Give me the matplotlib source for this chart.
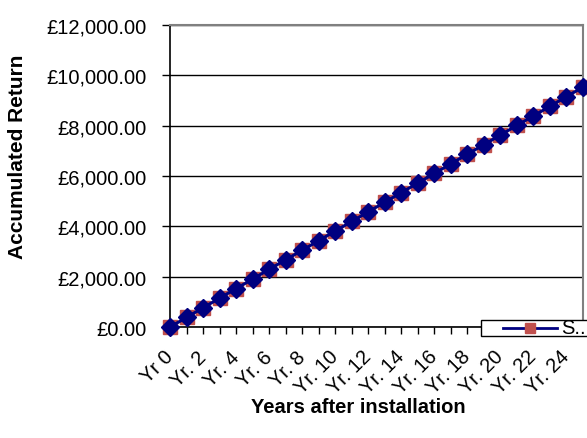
import matplotlib
matplotlib.use("Agg")
import matplotlib.pyplot as plt
from matplotlib.lines import Line2D
from matplotlib.patches import Rectangle

plt.rcParams['font.family'] = ['Liberation Sans', 'DejaVu Sans']

years = ["Yr 0"] + [f"Yr. {i}" for i in range(1, 26)]
returns_a = [0, 380, 765, 1145, 1525, 1905, 2290, 2670, 3050, 3430, 3815, 4195, 4575,
             4960, 5340, 5720, 6100, 6485, 6865, 7245, 7630, 8010, 8390, 8770, 9155, 9535]
returns_b = [0, 380, 765, 1145, 1525, 1905, 2290, 2670, 3050, 3430, 3815, 4195, 4575,
             4960, 5340, 5720, 6100, 6485, 6865, 7245, 7630, 8010, 8390, 8770, 9155, 9535]
yticks = [0, 2000, 4000, 6000, 8000, 10000, 12000]
ytick_labels = ["£0.00", "£2,000.00", "£4,000.00", "£6,000.00", "£8,000.00", "£10,000.00", "£12,000.00"]
legend_label = "S.."

W, H = 587, 439
FS = 14.5
fig = plt.figure(figsize=(W/100, H/100), dpi=100)
ax = fig.add_axes([170/W, 1-328/H, 413/W, 302/H])

x = list(range(len(years)))
ax.plot(x, returns_a, linestyle='none', marker='s', markersize=10.5, color='#C0504D',
        clip_on=False, zorder=3)
ax.plot(x, returns_b, linestyle='-', linewidth=2.2, marker='D', markersize=9.5,
        color='#000080', clip_on=False, zorder=4)

ax.set_xlim(0, 25)
ax.set_ylim(0, 12000)
ax.set_yticks(yticks)
ax.set_yticklabels(ytick_labels, fontsize=FS)
ax.set_xticks(x)
ax.set_xticklabels([lbl if i % 2 == 0 else "" for i, lbl in enumerate(years)],
                   rotation=45, ha='right', va='center', rotation_mode='anchor', fontsize=FS)
ax.tick_params(axis='x', direction='out', length=5, width=1, pad=14)
ax.tick_params(axis='y', direction='out', length=6, width=1, pad=11)

ax.grid(axis='y', color='black', linewidth=1)
ax.set_axisbelow(True)
for s in ['top', 'right']:
    ax.spines[s].set_color('#808080')
    ax.spines[s].set_linewidth(1.5)
for s in ['left', 'bottom']:
    ax.spines[s].set_color('black')
    ax.spines[s].set_linewidth(1.2)

fig.text(18/W, 1-157/H, "Accumulated Return", fontsize=15, fontweight='bold',
         rotation=90, ha='center', va='center')
fig.text(358/W, 1-408/H, "Years after installation", fontsize=FS,
         fontweight='bold', ha='center', va='center')

# legend (clipped at the right edge, as in the reference)
fig.patches.append(Rectangle((481/W, 1-337/H), 110/W, 16/H, transform=fig.transFigure,
                             facecolor='white', edgecolor='black', linewidth=1, zorder=5))
fig.lines.append(Line2D([503/W, 557/W], [1-329/H, 1-329/H], transform=fig.transFigure,
                        color='#000080', linewidth=2, zorder=6))
fig.lines.append(Line2D([530/W], [1-329/H], transform=fig.transFigure, marker='s',
                        markersize=7, color='#C0504D', linestyle='none', zorder=7))
fig.text(561/W, 1-329/H, legend_label, fontsize=FS, ha='left', va='center', zorder=8)

fig.savefig("out.png", dpi=100)
